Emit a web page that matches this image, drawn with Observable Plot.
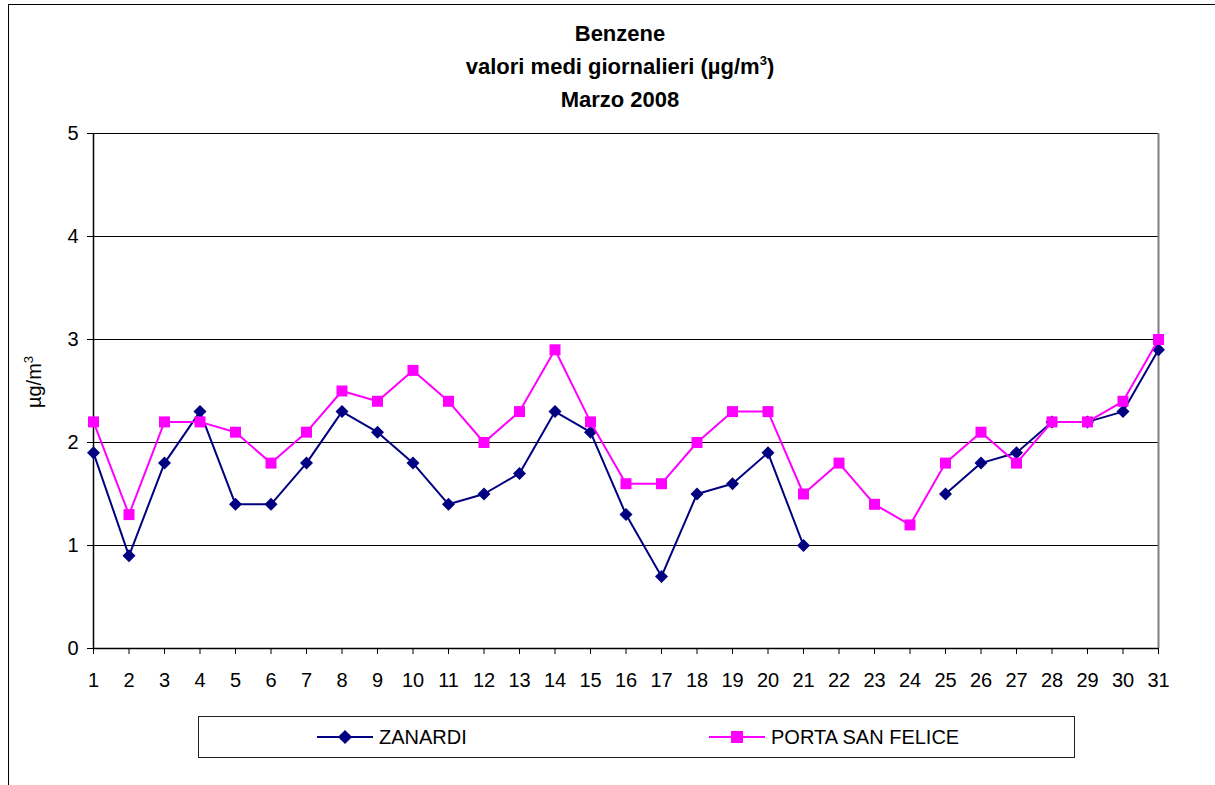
<!DOCTYPE html>
<html><head><meta charset="utf-8">
<script src="https://cdn.jsdelivr.net/npm/d3@7"></script>
<script src="https://cdn.jsdelivr.net/npm/@observablehq/plot@0.6"></script>
<style>
body{margin:0;background:#fff;font-family:"Liberation Sans",Arial,sans-serif;color:#000;}
#wrap{position:relative;width:1215px;height:785px;overflow:hidden;}
#frame{position:absolute;left:8px;top:4px;width:1300px;height:900px;border:1.5px solid #000;box-sizing:border-box;}
.t{position:absolute;left:0;width:1240px;text-align:center;font-weight:bold;font-size:22px;line-height:26px;}
.t sup{font-size:13px;line-height:0;vertical-align:9px;}
#chart{position:absolute;left:0;top:113px;}
#ylab{position:absolute;left:34px;top:382px;transform:translate(-50%,-50%) rotate(-90deg);font-size:20px;line-height:22px;white-space:nowrap;}
#ylab sup{font-size:13px;line-height:0;vertical-align:8px;}
#legend{position:absolute;left:198px;top:716px;width:877px;height:42px;border:1px solid #222;box-sizing:border-box;}
.li{position:absolute;top:0;height:40px;display:flex;align-items:center;font-size:20px;}
.li svg{margin-right:6px;}
</style>
</head><body>
<div id="wrap">
  <div id="frame"></div>
  <div class="t" style="top:21px">Benzene</div>
  <div class="t" style="top:54px">valori medi giornalieri (µg/m<sup>3</sup>)</div>
  <div class="t" style="top:87px">Marzo 2008</div>
  <div id="ylab">µg/m<sup>3</sup></div>
  <div id="chart"></div>
  <div id="legend">
    <div class="li" style="left:118px"><svg width="56" height="16"><line x1="0" y1="8" x2="56" y2="8" stroke="#000080" stroke-width="2"/><rect x="23" y="3" width="10" height="10" fill="#000080" transform="rotate(45 28 8)"/></svg><span id="l1"></span></div>
    <div class="li" style="left:510px"><svg width="56" height="16"><line x1="0" y1="8" x2="56" y2="8" stroke="#FF00FF" stroke-width="2"/><rect x="22" y="2" width="12" height="12" fill="#FF00FF"/></svg><span id="l2"></span></div>
  </div>
</div>
<script>
const days = [1,2,3,4,5,6,7,8,9,10,11,12,13,14,15,16,17,18,19,20,21,22,23,24,25,26,27,28,29,30,31];
const zanardi = [1.9,0.9,1.8,2.3,1.4,1.4,1.8,2.3,2.1,1.8,1.4,1.5,1.7,2.3,2.1,1.3,0.7,1.5,1.6,1.9,1.0,null,null,null,1.5,1.8,1.9,2.2,2.2,2.3,2.9];
const portaSanFelice = [2.2,1.3,2.2,2.2,2.1,1.8,2.1,2.5,2.4,2.7,2.4,2.0,2.3,2.9,2.2,1.6,1.6,2.0,2.3,2.3,1.5,1.8,1.4,1.2,1.8,2.1,1.8,2.2,2.2,2.4,3.0];
const seriesNames = ["ZANARDI","PORTA SAN FELICE"];
const yTicks = [0,1,2,3,4,5];

document.getElementById("l1").textContent = seriesNames[0];
document.getElementById("l2").textContent = seriesNames[1];

const zRows = days.map((d,i)=>({day:d, value:zanardi[i]}));
const pRows = days.map((d,i)=>({day:d, value:portaSanFelice[i]}));

const chart = Plot.plot({
  width:1215, height:580,
  marginTop:20, marginLeft:93, marginRight:57, marginBottom:45,
  style:{fontFamily:"'Liberation Sans', Arial, sans-serif", fontSize:"20px", color:"#000", background:"transparent"},
  x:{type:"linear", domain:[1,31]},
  y:{domain:[0,5]},
  marks:[
    Plot.gridY(yTicks.filter(v=>v>0), {stroke:"#000", strokeOpacity:1, strokeWidth:1}),
    Plot.ruleX([31], {stroke:"#808080", strokeWidth:2}),
    Plot.ruleY([0], {stroke:"#000", strokeWidth:1.5}),
    Plot.ruleX([1], {stroke:"#000", strokeWidth:1.5}),
    Plot.axisX({ticks:days, tickSize:6, tickPadding:18, tickFormat:d=>String(d), label:null, fontSize:20}),
    Plot.axisY({ticks:yTicks, tickSize:6, tickPadding:9, tickFormat:d=>String(d), label:null, fontSize:20}),
    Plot.line(zRows, {x:"day", y:"value", stroke:"#000080", strokeWidth:2}),
    Plot.dot(zRows, {x:"day", y:"value", symbol:"square", rotate:45, r:5.2, fill:"#000080", stroke:"none"}),
    Plot.line(pRows, {x:"day", y:"value", stroke:"#FF00FF", strokeWidth:2}),
    Plot.dot(pRows, {x:"day", y:"value", symbol:"square", r:6.2, fill:"#FF00FF", stroke:"none"})
  ]
});
document.getElementById("chart").appendChild(chart);
</script>
</body></html>
